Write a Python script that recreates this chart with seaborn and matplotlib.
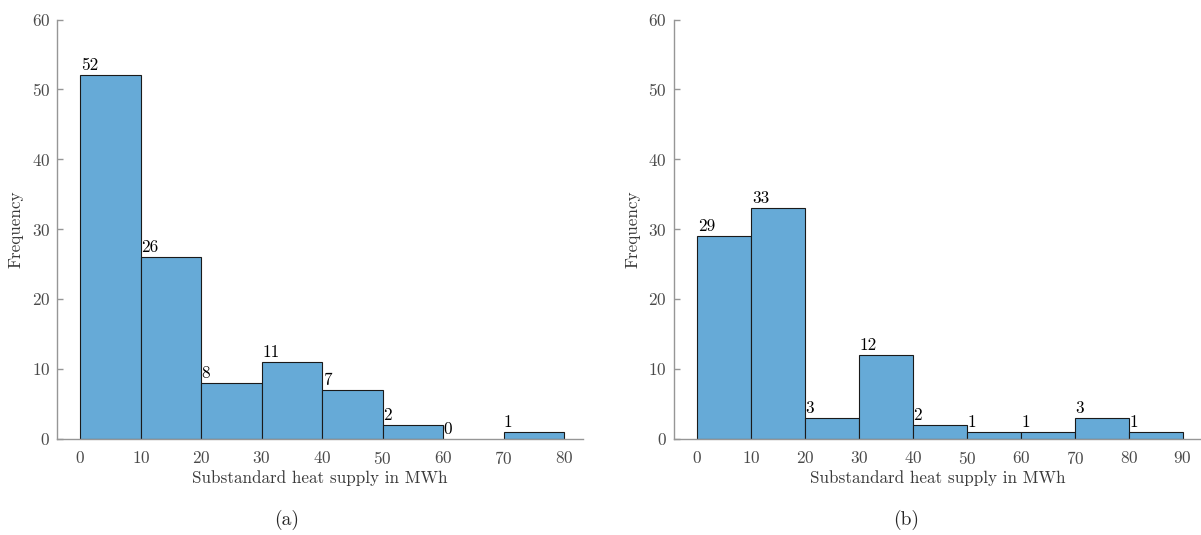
import numpy as np
import pandas as pd
import matplotlib
matplotlib.use("Agg")
import matplotlib.pyplot as plt
import seaborn as sns

# Histogram bin edges and counts for both panels
edges_a = [0, 10, 20, 30, 40, 50, 60, 70, 80]
counts_a = [52, 26, 8, 11, 7, 2, 0, 1]

edges_b = [0, 10, 20, 30, 40, 50, 60, 70, 80, 90]
counts_b = [29, 33, 3, 12, 2, 1, 1, 3, 1]

xticks_a = [0, 10, 20, 30, 40, 50, 60, 70, 80]
xticks_b = [0, 10, 20, 30, 40, 50, 60, 70, 80, 90]
yticks = [0, 10, 20, 30, 40, 50, 60]

xlabel = "Substandard heat supply in MWh"
ylabel = "Frequency"
captions = ["(a)", "(b)"]

sns.set_style("ticks")
plt.rcParams["font.family"] = ["cmr10", "DejaVu Sans"]
plt.rcParams["axes.formatter.use_mathtext"] = True
plt.rcParams["mathtext.fontset"] = "cm"

BAR = "#66AAD7"
EDGE = "#1a1a1a"
AXIS = "#969696"
TICKTXT = "#4a4a4a"
LABTXT = "#3a3a3a"
FS = 12.3

fig = plt.figure(figsize=(12.01, 5.35), dpi=100)
ax_a = fig.add_axes([0.04746, 0.18, 0.43797, 0.78355])
ax_b = fig.add_axes([0.56095, 0.18, 0.43905, 0.78355])


def draw(ax, edges, counts, xticks, xlim):
    centers = [(lo + hi) / 2 for lo, hi in zip(edges[:-1], edges[1:])]
    df = pd.DataFrame({"value": centers, "count": counts})
    sns.histplot(data=df, x="value", weights="count", bins=list(edges),
                 ax=ax, color=BAR, alpha=1.0, edgecolor=EDGE, linewidth=0.8)
    for p in ax.patches:
        if p.get_height() == 0:
            p.set_visible(False)
    # count labels at the left edge of each bin
    for left, c in zip(edges[:-1], counts):
        ax.annotate(f"{c}", xy=(left, c), xytext=(0.3, 3.6),
                    textcoords="offset points", ha="left", va="baseline",
                    fontsize=FS, color="black")
    ax.set_xlim(*xlim)
    ax.set_ylim(0, 60)
    ax.set_xticks(xticks)
    ax.set_yticks(yticks)
    ax.set_xlabel(xlabel, fontsize=FS, color=LABTXT, labelpad=2.5)
    ax.set_ylabel(ylabel, fontsize=FS, color=LABTXT, labelpad=5.5)
    for s in ("top", "right"):
        ax.spines[s].set_visible(False)
    for s in ("left", "bottom"):
        ax.spines[s].set_color(AXIS)
        ax.spines[s].set_linewidth(1.0)
    ax.tick_params(axis="y", direction="in", length=4, width=1.0,
                   color=AXIS, labelsize=FS, labelcolor=TICKTXT, pad=5)
    ax.tick_params(axis="x", length=0, labelsize=FS,
                   labelcolor=TICKTXT, pad=8)


draw(ax_a, edges_a, counts_a, xticks_a, (-3.85, 83.14))
draw(ax_b, edges_b, counts_b, xticks_b, (-4.40, 93.4))

fig.text(0.239, 0.028, captions[0], ha="center", va="center", fontsize=14)
fig.text(0.7548, 0.028, captions[1], ha="center", va="center", fontsize=14)

fig.savefig("out.png", dpi=100)
